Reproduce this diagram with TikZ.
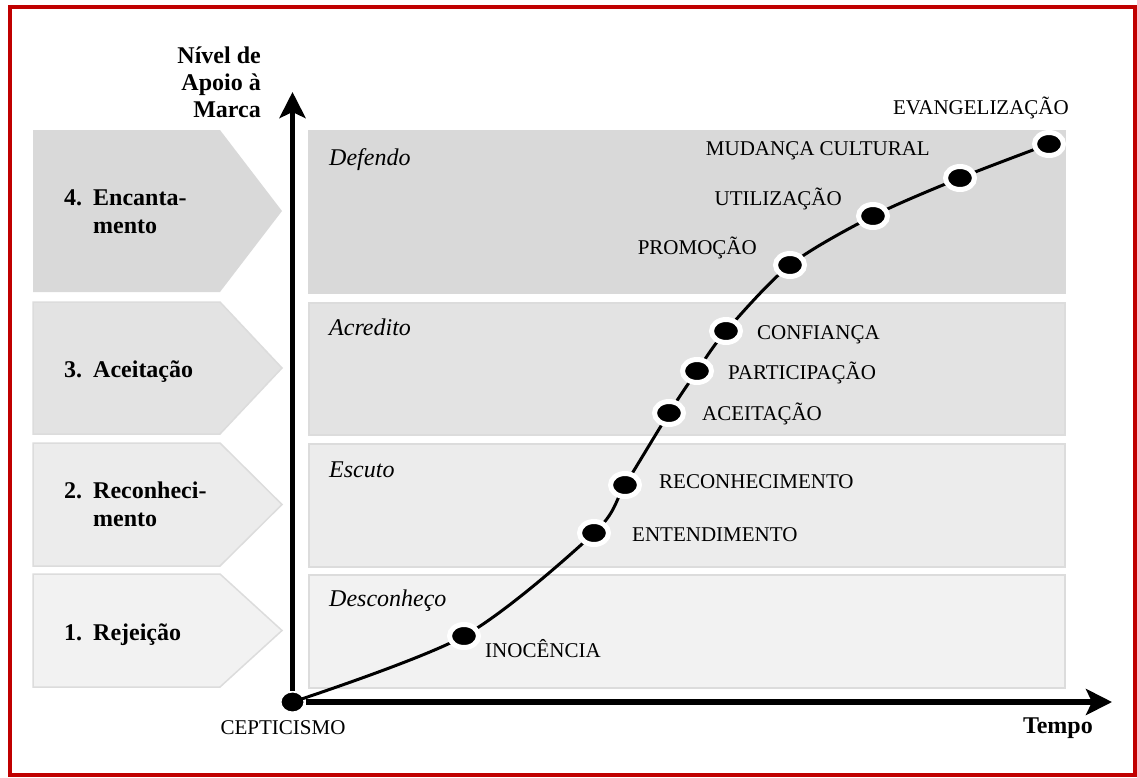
\documentclass[tikz,border=0pt]{standalone}
\usepackage{fontspec}
\setmainfont{Liberation Serif}
\usepackage{tikz}
\usetikzlibrary{arrows.meta, positioning, shapes.geometric}
\usepackage{xcolor}

\definecolor{frame}{HTML}{C00000}
\definecolor{lvlfour}{HTML}{D9D9D9}
\definecolor{lvlthree}{HTML}{E3E3E3}
\definecolor{lvltwo}{HTML}{ECECEC}
\definecolor{lvlone}{HTML}{F2F2F2}
\definecolor{edge}{HTML}{DCDCDC}

\begin{document}
\begin{tikzpicture}[
    x=1pt, y=1pt,
    band/.style={rectangle, draw=edge, line width=1.5pt, anchor=north west, inner sep=0pt, minimum width=756pt, minimum height=162pt},
    chev/.style={draw=edge, line width=1.5pt},
    stage/.style={anchor=base west, inner sep=0pt, font=\fontsize{24}{28}\selectfont\bfseries},
    mood/.style={anchor=base west, inner sep=0pt, font=\fontsize{24}{28}\selectfont\itshape},
    lbl/.style={inner sep=0pt, font=\fontsize{21}{25}\selectfont},
    dot/.style={ellipse, fill=black, draw=white, line width=5pt, minimum width=29pt, minimum height=23pt, inner sep=0pt},
    axis/.style={line width=5.5pt, -{Stealth[length=26pt, width=26pt, inset=6pt]}},
    curve/.style={line width=3pt}
]
    \useasboundingbox (0,0) rectangle (1137,-777);
    % moldura
    \draw[frame, line width=4pt] (10,-7) rectangle (1135,-775);

    % setas dos níveis
    \fill[lvlfour] (33,-130) -- (220,-130) -- (282,-211) -- (220,-292) -- (33,-292) -- cycle;
    \draw[chev, fill=lvlthree] (33,-302) -- (220,-302) -- (282,-368) -- (220,-434) -- (33,-434) -- cycle;
    \draw[chev, fill=lvltwo] (33,-443) -- (220,-443) -- (282,-504.5) -- (220,-566) -- (33,-566) -- cycle;
    \draw[chev, fill=lvlone] (33,-574) -- (220,-574) -- (282,-630.5) -- (220,-687) -- (33,-687) -- cycle;

    \node[stage] (s4) at (64,-205) {\begin{tabular}[t]{@{}l@{\hspace{11pt}}l@{}}4. & Encanta-\\ & mento\end{tabular}};
    \node[stage] (s3) at (64,-377) {\begin{tabular}[t]{@{}l@{\hspace{11pt}}l@{}}3. & Aceitação\end{tabular}};
    \node[stage] (s2) at (64,-498) {\begin{tabular}[t]{@{}l@{\hspace{11pt}}l@{}}2. & Reconheci-\\ & mento\end{tabular}};
    \node[stage] (s1) at (64,-640) {\begin{tabular}[t]{@{}l@{\hspace{11pt}}l@{}}1. & Rejeição\end{tabular}};

    % faixas
    \node[band, fill=lvlfour, draw=lvlfour] (b4) at (308,-130) {};
    \node[band, fill=lvlthree, minimum height=132pt] (b3) at (308,-302) {};
    \node[band, fill=lvltwo, minimum height=123pt] (b2) at (308,-443) {};
    \node[band, fill=lvlone, minimum height=113pt] (b1) at (308,-574) {};

    \node[mood] (m4) at (329,-165) {Defendo};
    \node[mood] (m3) at (329,-335) {Acredito};
    \node[mood] (m2) at (329,-477) {Escuto};
    \node[mood] (m1) at (329,-606) {Desconheço};

    % eixos
    \node[ellipse, fill=black, draw=white, line width=2pt, minimum width=24pt, minimum height=21pt, inner sep=0pt] (origin) at (292.5,-702) {};
    \coordinate (ytop) at (292.5,-92);
    \coordinate (xend) at (1112,-702);
    \draw[axis] (origin) -- (ytop);
    \draw[axis] (origin) -- (xend);

    \node[inner sep=0pt, anchor=base east, font=\fontsize{24}{27}\selectfont\bfseries] (ylabel) at (261,-63)
        {\begin{tabular}[t]{@{}r@{}}Nível de\\Apoio à\\Marca\end{tabular}};
    \node[inner sep=0pt, anchor=base east, font=\fontsize{24}{28}\selectfont\bfseries] (xlabel) at (1093,-733) {Tempo};

    % curva de adoção
    \coordinate (p1) at (464,-636);
    \coordinate (p2) at (594,-533);
    \coordinate (p3) at (625,-485);
    \coordinate (p4) at (669,-413);
    \coordinate (p5) at (697,-371);
    \coordinate (p6) at (726,-331);
    \coordinate (p7) at (790,-265);
    \coordinate (p8) at (873,-216);
    \coordinate (p9) at (960,-178);
    \coordinate (p10) at (1049,-144);
    \draw[curve] plot[smooth, tension=0.5] coordinates {(origin) (p1) (p2) (p3) (p4) (p5) (p6) (p7) (p8) (p9) (p10)};

    \node[dot] (d1) at (p1) {};
    \node[dot] (d2) at (p2) {};
    \node[dot] (d3) at (p3) {};
    \node[dot] (d4) at (p4) {};
    \node[dot] (d5) at (p5) {};
    \node[dot] (d6) at (p6) {};
    \node[dot] (d7) at (p7) {};
    \node[dot] (d8) at (p8) {};
    \node[dot] (d9) at (p9) {};
    \node[dot] (d10) at (p10) {};

    % rótulos das etapas
    \node[lbl, anchor=base] (t0) at (283,-734) {CEPTICISMO};
    \node[lbl, anchor=base west] (t1) at (485,-657) {INOCÊNCIA};
    \node[lbl, anchor=base west] (t2) at (632,-541) {ENTENDIMENTO};
    \node[lbl, anchor=base west] (t3) at (659,-488) {RECONHECIMENTO};
    \node[lbl, anchor=base west] (t4) at (702,-420) {ACEITAÇÃO};
    \node[lbl, anchor=base west] (t5) at (728,-379) {PARTICIPAÇÃO};
    \node[lbl, anchor=base west] (t6) at (757,-339) {CONFIANÇA};
    \node[lbl, anchor=base east] (t7) at (757,-254) {PROMOÇÃO};
    \node[lbl, anchor=base east] (t8) at (842,-205) {UTILIZAÇÃO};
    \node[lbl, anchor=base east] (t9) at (930,-155) {MUDANÇA CULTURAL};
    \node[lbl, anchor=base east] (t10) at (1069,-114) {EVANGELIZAÇÃO};
\end{tikzpicture}
\end{document}
